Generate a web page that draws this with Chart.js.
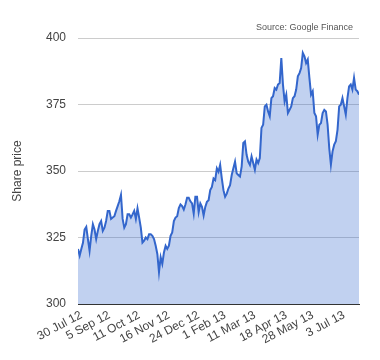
<!DOCTYPE html>
<html>
<head>
<meta charset="utf-8">
<script src="https://cdn.jsdelivr.net/npm/chart.js@4"></script>
<style>
  body { margin: 0; background: #fff; }
  #wrap { width: 380px; height: 360px; }
</style>
</head>
<body>
<div id="wrap"><canvas id="chart"></canvas></div>
<script>
// share price, roughly one point per 1.5 trading days, late Jul 2012 to late Jul 2013
const prices = [
  320.7, 318.2, 320.7, 323, 328, 329, 324.4, 320, 325.6, 330, 328, 324.4, 327.5, 330, 331.2, 327.5, 328.7, 331.2, 335, 335,
  332, 332.5, 333, 335, 336.8, 338.6, 341, 332, 328.7, 330, 333.7, 333.7, 332.5, 333.7, 335,
  332, 336, 332.5, 328.7, 323.1, 323.8, 325, 324.4, 326.2, 326.2, 325.6, 324.4, 321.9, 318.8, 312, 317.6, 315.1,
  319.4, 321.9, 320.7, 321.9, 325.6, 326.9, 331.2, 332.5, 333, 336.1, 337.4, 336.8, 335.5, 337.4, 339.9, 339.9, 338.6,
  337.8, 334, 340.3, 340.3, 334.6, 337.8, 336.5, 333.3, 336.5, 338.4, 339, 342.8, 344, 347.2, 346.6, 351, 349.7, 352.3,
  347.2, 342.8, 340.3, 341.5, 343.4, 344.7, 348.5, 351, 353.5, 349.1, 348.5, 347.9, 351.6, 360.5, 361.1, 356.1, 353.5, 352.3,
  355.5, 353, 350.5, 354.3, 353, 354.9, 366.2, 367.4, 374.3, 374.9, 372.4, 370.6, 377.4, 378.1, 381.2, 380.6, 382.5, 383.1,
  392.5, 382.5, 376.2, 378.7, 371.8, 373, 374.3, 377.4, 378.1, 380.6, 385.6, 386.8, 388.7, 394.4,
  393.1, 390.6, 391.9, 385, 378.7, 380, 371.8, 370.6, 363.7, 367.4, 368, 371.8, 373, 372.4, 367.4, 358.6, 352.4, 357.4,
  359.9, 361.2, 365.5, 374.3, 374.9, 377.4, 374.3, 371.2, 377.4, 381.8, 382.5, 380.6, 385, 380.6, 380, 378.7
];

const dateLabels = ["30 Jul 12", "5 Sep 12", "11 Oct 12", "16 Nov 12", "24 Dec 12", "1 Feb 13", "11 Mar 13", "18 Apr 13", "28 May 13", "3 Jul 13"];
const labelIdx = [2, 19, 37, 55, 73, 89, 107, 126, 142, 161];

const yTicks = [300, 325, 350, 375, 400];

const sourceText = {
  id: "sourceText",
  afterDraw(chart) {
    const c = chart.ctx;
    c.save();
    c.font = "9px 'Liberation Sans', Arial, sans-serif";
    c.fillStyle = "#555";
    c.textAlign = "right";
    c.textBaseline = "middle";
    c.fillText("Source: Google Finance", chart.chartArea.right - 6, 28);
    c.restore();
  }
};

const ctx = document.getElementById("chart").getContext("2d");

const chart = new Chart(ctx, {
  type: "line",
  data: {
    datasets: [{
      label: "Share price",
      data: prices.map((p, i) => ({ x: i, y: p })),
      borderColor: "#3366cc",
      backgroundColor: "rgba(51,102,204,0.3)",
      borderWidth: 2,
      fill: "start",
      pointRadius: 0,
      tension: 0
    }]
  },
  options: {
    responsive: true,
    maintainAspectRatio: false,
    animation: false,
    layout: { padding: { top: 38, right: 21, left: 0, bottom: 0 } },
    plugins: {
      legend: { display: false },
      tooltip: { enabled: false }
    },
    scales: {
      x: {
        type: "linear",
        min: 0,
        max: prices.length - 1,
        grid: { display: false },
        border: { display: true, color: "#333", width: 1 },
        afterBuildTicks: (scale) => {
          scale.ticks = labelIdx.map(v => ({ value: v }));
        },
        afterFit: (scale) => { scale.height = 56; },
        ticks: {
          autoSkip: false,
          minRotation: 28,
          maxRotation: 28,
          padding: -4,
          color: "#444",
          font: { family: "'Liberation Sans', Arial, sans-serif", size: 12 },
          callback: (v) => dateLabels[labelIdx.indexOf(v)]
        }
      },
      y: {
        min: 300,
        max: 400,
        afterBuildTicks: (scale) => {
          scale.ticks = yTicks.map(v => ({ value: v }));
        },
        afterFit: (scale) => { scale.width = 78; },
        grid: {
          drawTicks: false,
          color: (c) => c.tick && c.tick.value === 300 ? "#333" : "#ccc"
        },
        border: { display: false },
        ticks: {
          padding: 12,
          color: "#444",
          font: { family: "'Liberation Sans', Arial, sans-serif", size: 12 }
        },
        title: {
          display: true,
          text: "Share price",
          color: "#444",
          padding: { top: 10, bottom: 0 },
          font: { family: "'Liberation Sans', Arial, sans-serif", size: 12 }
        }
      }
    }
  },
  plugins: [sourceText]
});
</script>
</body>
</html>
